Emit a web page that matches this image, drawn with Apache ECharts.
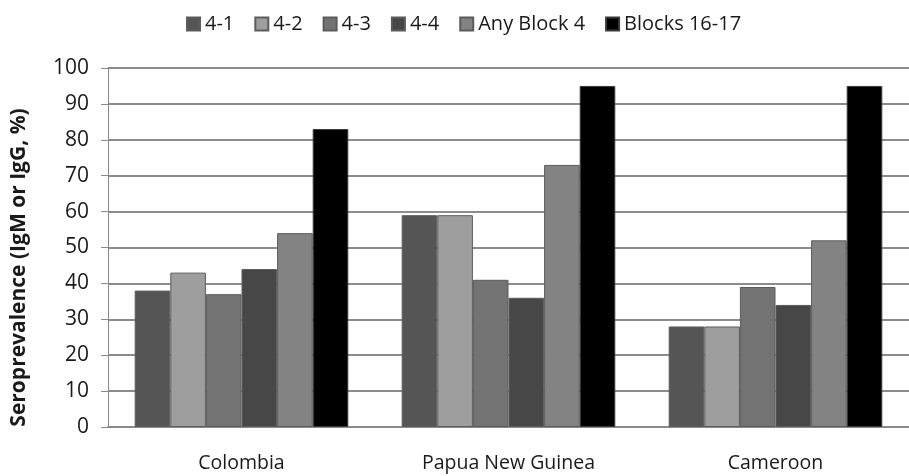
<!DOCTYPE html>
<html><head><meta charset="utf-8">
<script src="https://cdn.jsdelivr.net/npm/echarts@6/dist/echarts.min.js"></script>
<style>html,body{margin:0;padding:0;background:#fff}#c{width:909px;height:476px}</style>
</head><body><div id="c"></div>
<script>
var categories = ['Colombia', 'Papua New Guinea', 'Cameroon'];
var seriesNames = ['4-1', '4-2', '4-3', '4-4', 'Any Block 4', 'Blocks 16-17'];
var s41 = [38, 59, 28];
var s42 = [43, 59, 28];
var s43 = [37, 41, 39];
var s44 = [44, 36, 34];
var sAny = [54, 73, 52];
var s1617 = [83, 95, 95];
var yTicks = [0, 10, 20, 30, 40, 50, 60, 70, 80, 90, 100];
var colors = ['#555555', '#9d9e9d', '#737373', '#474747', '#838383', '#000000'];
var values = [s41, s42, s43, s44, sAny, s1617];
var FONT = '"Open Sans", sans-serif';
var chart = echarts.init(document.getElementById('c'));
chart.setOption({
  animation: false,
  textStyle: {fontFamily: FONT},
  legend: {
    top: 9, left: 181, itemWidth: 13, itemHeight: 13, itemGap: 20,
    icon: 'rect',
    textStyle: {fontSize: 20, color: '#1a1a1a', fontFamily: FONT},
    data: seriesNames
  },
  grid: {left: 108, right: -7, top: 68, bottom: 49},
  xAxis: {
    type: 'category', data: categories,
    axisLine: {lineStyle: {color: '#8a8a8a', width: 2}},
    axisTick: {show: false},
    axisLabel: {fontSize: 19.5, color: '#1a1a1a', margin: 26, fontFamily: FONT}
  },
  yAxis: {
    type: 'value', min: 0, max: 100, interval: 10,
    name: 'Seroprevalence (IgM or IgG, %)', nameLocation: 'middle', nameGap: 78, nameRotate: 90,
    nameTextStyle: {fontSize: 21, fontWeight: 'bold', color: '#1a1a1a', fontFamily: FONT, padding: [0, 40, 0, 0]},
    axisLine: {show: true, lineStyle: {color: '#8a8a8a', width: 1}},
    axisTick: {show: true, length: 7, lineStyle: {color: '#8a8a8a'}},
    axisLabel: {fontSize: 21, color: '#1a1a1a', margin: 19, fontFamily: FONT,
      formatter: function (v) { return yTicks.indexOf(v) >= 0 ? String(v) : ''; }},
    splitLine: {lineStyle: {color: '#8c8c8c', width: 2}}
  },
  series: seriesNames.map(function (n, i) {
    return {
      name: n, type: 'bar', data: values[i],
      barGap: '0%', barCategoryGap: '20%',
      itemStyle: {color: colors[i], borderColor: i === 5 ? '#3a3a3a' : '#5c5c5c', borderWidth: 1}
    };
  })
});
</script></body></html>
